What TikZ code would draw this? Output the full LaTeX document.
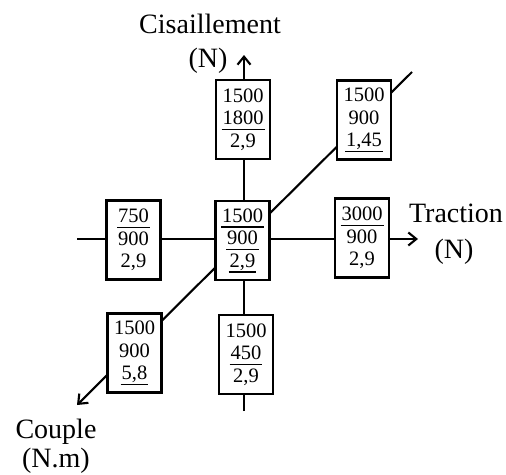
\documentclass[tikz,border=0pt]{standalone}
\usepackage{fontspec}
\setmainfont{Liberation Serif}
\usetikzlibrary{arrows.meta}
\newsavebox\ulbox
\newcommand\uln[1]{\sbox\ulbox{#1}\rlap{\hspace{-1pt}\rule[-5.5pt]{\dimexpr\wd\ulbox+2pt\relax}{1.3pt}}\usebox\ulbox}
\begin{document}
\begin{tikzpicture}[x=1pt,y=-1pt,
  box/.style={draw, line width=2.2pt, fill=white, minimum width=54pt, minimum height=79pt, inner sep=0pt, align=center, font=\fontsize{20.5}{22.5}\selectfont},
  lbl/.style={font=\fontsize{28}{33}\selectfont, inner sep=0pt, anchor=base},
  axis/.style={line width=2.1pt},
  tip/.style={-{Straight Barb[length=8pt,width=13pt]}}]
\useasboundingbox (0,0) rectangle (506,474);
% axes
\coordinate (vbot) at (244,411);
\coordinate (vtop) at (244,55);
\coordinate (hl) at (77,239);
\coordinate (hr) at (418,239);
\coordinate (dtr) at (412,72);
\coordinate (dbl) at (77,405);
\draw[axis,tip] (vbot) -- (vtop);
\draw[axis,tip] (hl) -- (hr);
\draw[axis,tip] (dtr) -- (dbl);
% boxes
\node[box] (C)  at (242.5,240.5) {\uln{1500}\\\uln{900}\\\uln{2,9}};
\node[box] (T)  at (243,119.5) {1500\\\uln{1800}\\2,9};
\node[box] (TR) at (364,120) {1500\\900\\\uln{1,45}};
\node[box] (L)  at (133.5,240) {\uln{750}\\900\\2,9};
\node[box] (R)  at (362,238) {\uln{3000}\\900\\2,9};
\node[box] (BL) at (134.5,353) {1500\\900\\\uln{5,8}};
\node[box] (B)  at (246,354.5) {1500\\\uln{450}\\2,9};
% labels
\node[lbl] (cis)  at (210,33) {Cisaillement};
\node[lbl] (cisu) at (208,67) {(N)};
\node[lbl] (tra)  at (456,222) {Traction};
\node[lbl] (trau) at (454,258) {(N)};
\node[lbl] (cou)  at (56,438) {Couple};
\node[lbl] (couu) at (56,467) {(N.m)};
\end{tikzpicture}
\end{document}
